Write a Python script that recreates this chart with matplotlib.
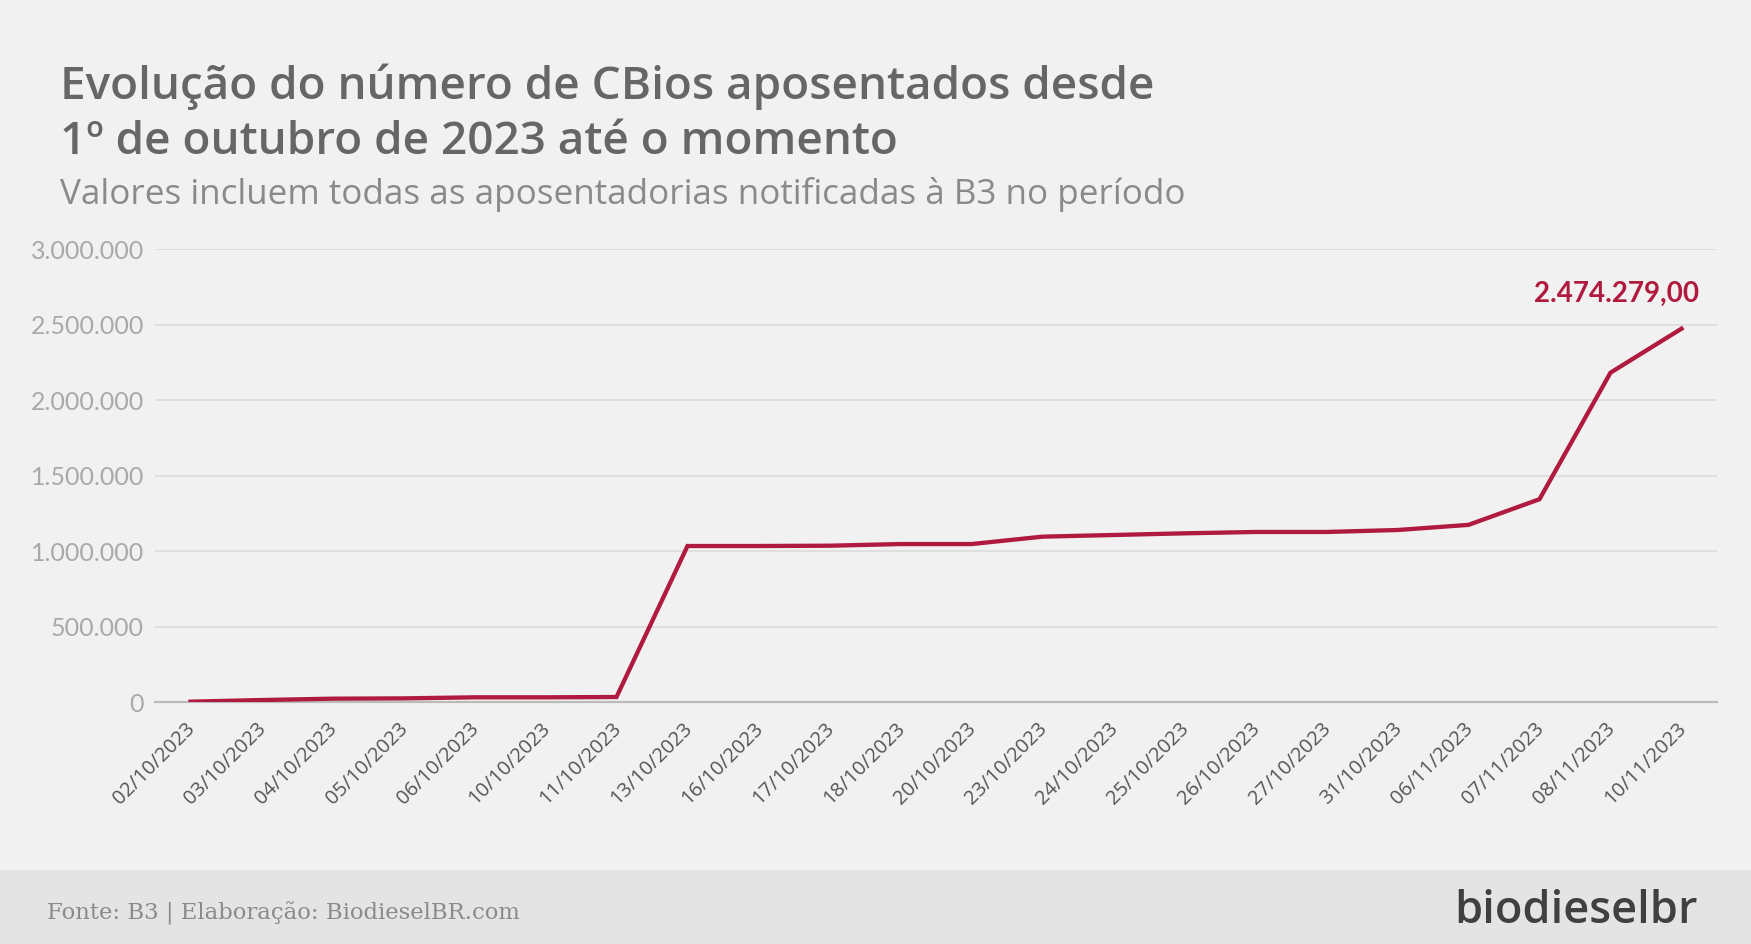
import matplotlib
matplotlib.use("Agg")
import matplotlib.pyplot as plt
import matplotlib.transforms as mtransforms
from matplotlib.patches import Rectangle
from matplotlib.ticker import FuncFormatter, MultipleLocator

# data
datas = ['02/10/2023', '03/10/2023', '04/10/2023', '05/10/2023', '06/10/2023',
         '10/10/2023', '11/10/2023', '13/10/2023', '16/10/2023', '17/10/2023',
         '18/10/2023', '20/10/2023', '23/10/2023', '24/10/2023', '25/10/2023',
         '26/10/2023', '27/10/2023', '31/10/2023', '06/11/2023', '07/11/2023',
         '08/11/2023', '10/11/2023']
cbios = [4000, 15000, 24000, 26000, 33000,
         33000, 35000, 1035000, 1035000, 1037000,
         1048000, 1048000, 1097000, 1108000, 1119000,
         1128000, 1128000, 1141000, 1175000, 1345000,
         2183000, 2474279]
rotulo_final = '2.474.279,00'

titulo = 'Evolução do número de CBios aposentados desde\n1º de outubro de 2023 até o momento'
subtitulo = 'Valores incluem todas as aposentadorias notificadas à B3 no período'
fonte = 'Fonte: B3 | Elaboração: BiodieselBR.com'

BG = '#f1f1f1'
VERMELHO = '#b01a3f'

fig = plt.figure(figsize=(17.51, 9.44), dpi=100, facecolor=BG)
ax = fig.add_axes([155/1751, 1 - 702.3/944, (1717-155)/1751, (702.3-249.3)/944])
ax.set_facecolor(BG)

x = list(range(len(datas)))
ax.plot(x, cbios, color=VERMELHO, lw=3.1, solid_joinstyle='miter', zorder=3)

ax.set_xlim(-0.5, len(datas) - 0.5)
ax.set_ylim(0, 3000000)
ax.yaxis.set_major_locator(MultipleLocator(500000))
ax.yaxis.set_major_formatter(FuncFormatter(lambda v, p: f'{int(v):,}'.replace(',', '.')))
ax.grid(axis='y', color='#dcdcdc', lw=1.2)
ax.set_axisbelow(True)
for s in ['top', 'right', 'left']:
    ax.spines[s].set_visible(False)
ax.spines['bottom'].set_color('#bbbbbb')
ax.spines['bottom'].set_linewidth(1.6)

ax.tick_params(axis='y', length=0, pad=8, labelsize=18, labelcolor='#a9a9a9')
for lab in ax.get_yticklabels():
    lab.set_family('Lato')

ax.set_xticks(x)
ax.set_xticklabels(datas, rotation=45, ha='right', rotation_mode='anchor',
                   fontsize=14.5, color='#555555', family='Open Sans')
ax.tick_params(axis='x', length=0, pad=12)
offset = mtransforms.ScaledTranslation(-0.05, 0, fig.dpi_scale_trans)
for lab in ax.get_xticklabels():
    lab.set_transform(lab.get_transform() + offset)

ax.annotate(rotulo_final, xy=(x[-1], cbios[-1]), xytext=(13, 25),
            textcoords='offset points', ha='right', va='center',
            fontsize=20, fontweight='bold', color=VERMELHO, family='Lato')

# titles
linhas = titulo.split('\n')
fig.text(60/1751, 1 - 99/944, linhas[0], fontsize=33, fontweight='semibold',
         color='#666666', family='Open Sans', va='baseline')
fig.text(60/1751, 1 - 154/944, linhas[1], fontsize=33, fontweight='semibold',
         color='#666666', family='Open Sans', va='baseline')
fig.text(60/1751, 1 - 204/944, subtitulo, fontsize=25.2, color='#8a8a8a',
         family='Open Sans', va='baseline')

# footer band
fig.add_artist(Rectangle((0, 0), 1, 74/944, transform=fig.transFigure,
                         facecolor='#e4e4e4', edgecolor='none', zorder=0))
fig.text(47/1751, 1 - 913/944, fonte, fontsize=16.4, color='#8a8a8a',
         family='DejaVu Serif', va='center')
fig.text(1698/1751, 1 - 923/944, 'biodieselbr', fontsize=32.5, fontweight='semibold',
         color='#404040', family='Open Sans', ha='right', va='baseline')

fig.savefig('out.png', dpi=100, facecolor=BG)
